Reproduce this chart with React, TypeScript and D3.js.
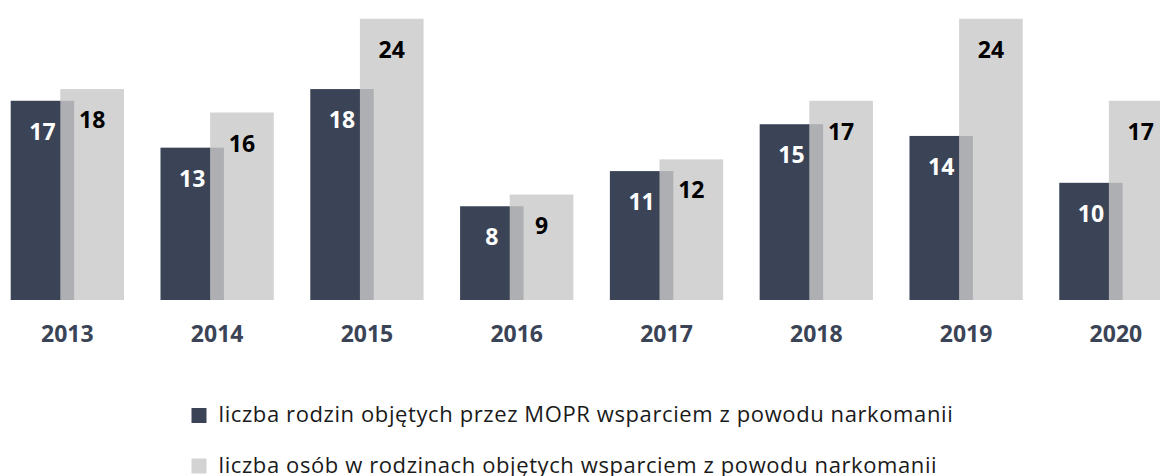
import React from "react";
import * as d3 from "d3";

const years = ["2013", "2014", "2015", "2016", "2017", "2018", "2019", "2020"];
const families = [17, 13, 18, 8, 11, 15, 14, 10];
const persons = [18, 16, 24, 9, 12, 17, 24, 17];
const legendLabels = [
  "liczba rodzin objętych przez MOPR wsparciem z powodu narkomanii",
  "liczba osób w rodzinach objętych wsparciem z powodu narkomanii",
];

const W = 1160;
const H = 476;
const DARK = "#3b4456";
const LIGHT = "#d3d3d3";
const FONT = "'Open Sans', sans-serif";

export default function App() {
  const step = 149.8;
  const po = 0.122;
  const x = d3
    .scaleBand<string>()
    .domain(years)
    .range([10.7 - po * step, 10.7 - po * step + years.length * step])
    .paddingInner(0.2437)
    .paddingOuter(po);
  const y = d3.scaleLinear().domain([0, 25.6]).range([300, 0]);
  const bw = x.bandwidth();
  const darkW = bw * 0.56;
  const lightOff = bw * 0.438;
  const lightW = bw * 0.562;

  return (
    <svg
      width={W}
      height={H}
      style={{ position: "absolute", left: 0, top: 0, background: "#fff" }}
    >
      {years.map((yr, i) => {
        const x0 = x(yr)!;
        return (
          <g key={yr}>
            <rect
              x={x0}
              y={y(families[i])}
              width={darkW}
              height={y(0) - y(families[i])}
              fill={DARK}
            />
            <rect
              x={x0 + lightOff}
              y={y(persons[i])}
              width={lightW}
              height={y(0) - y(persons[i])}
              fill="#c8c8c8"
              fillOpacity={0.806}
            />
            <text
              x={x0 + darkW / 2}
              y={y(families[i]) + 39}
              textAnchor="middle"
              fill="#fff"
              fontFamily={FONT}
              fontWeight="bold"
              fontSize={23}
            >
              {families[i]}
            </text>
            <text
              x={x0 + lightOff + lightW / 2}
              y={y(persons[i]) + 39}
              textAnchor="middle"
              fill="#000"
              fontFamily={FONT}
              fontWeight="bold"
              fontSize={23}
            >
              {persons[i]}
            </text>
            <text
              x={x0 + bw / 2}
              y={342}
              textAnchor="middle"
              fill={DARK}
              fontFamily={FONT}
              fontWeight="bold"
              fontSize={23}
            >
              {yr}
            </text>
          </g>
        );
      })}
      {legendLabels.map((lab, i) => (
        <g key={lab} transform={`translate(191.5, ${408 + i * 50.5})`}>
          <rect width={15} height={15} fill={i === 0 ? DARK : LIGHT} />
          <text
            x={27}
            y={14}
            fill="#1a1a1a"
            fontFamily={FONT}
            fontSize={22}
            letterSpacing={0.6}
          >
            {lab}
          </text>
        </g>
      ))}
    </svg>
  );
}
